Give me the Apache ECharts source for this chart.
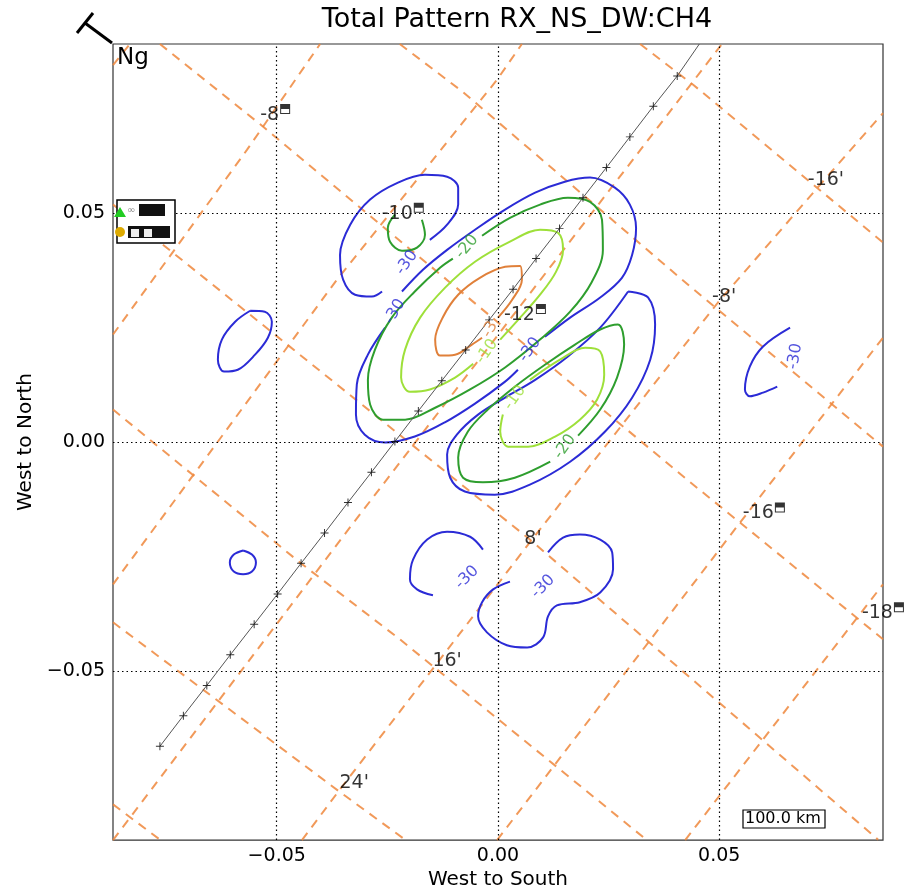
<!DOCTYPE html>
<html><head><meta charset="utf-8">
<script src="https://cdn.jsdelivr.net/npm/echarts@6/dist/echarts.min.js"></script>
<style>html,body{margin:0;padding:0;background:#fff}#c{width:922px;height:895px}</style>
</head><body><div id="c"></div>
<script>
// ---------- data ----------
const axisMin = -0.087, axisMax = 0.087;
const xTicks = [-0.05, 0, 0.05];
const yTicks = [-0.05, 0, 0.05];
const tickText = {'-0.05':'\u22120.05','0':'0.00','0.05':'0.05'};

// graticule (orange dashed) lines, data coords
const gratUa = [[-0.087,0.0824],[-0.0832,0.087]];
const gratUb = [[-0.087,0.0235],[-0.0567,0.0639],[-0.0402,0.087]];
const gratUc = [[-0.087,-0.0311],[-0.0364,0.0355],[-0.0002,0.0792],[0.0054,0.087]];
const gratUd = [[-0.087,-0.087],[-0.0335,-0.0187],[0.0506,0.087]];
const gratUe = [[-0.0443,-0.087],[-0.0357,-0.0759],[-0.0131,-0.0475],[0.0068,-0.0224],[0.0276,0.0032],[0.0497,0.0305],[0.0732,0.0567],[0.087,0.0719]];
const gratUf = [[-0.0002,-0.087],[0.0547,-0.0176],[0.087,0.0228]];
const gratUg = [[0.0423,-0.087],[0.087,-0.0311]];
const gratD3 = [[0.0321,0.087],[0.0441,0.0781],[0.087,0.0436]];
const gratD2 = [[-0.0222,0.087],[-0.0079,0.0765],[0.0434,0.0340],[0.087,-0.0010]];
const gratD1 = [[-0.0764,0.087],[-0.0538,0.0695],[-0.0002,0.0263],[0.0427,-0.0082],[0.0585,-0.0206],[0.087,-0.0431]];
const gratD0 = [[-0.087,0.0519],[0.0072,-0.0213],[0.0859,-0.0869]];
const gratDm1 = [[-0.087,0.0071],[-0.0448,-0.0263],[-0.0222,-0.0431],[0.0335,-0.0869]];
const gratDm2 = [[-0.087,-0.0394],[-0.0357,-0.0765],[-0.0210,-0.0869]];
const gratDm3 = [[-0.087,-0.0792],[-0.0764,-0.0869]];
const graticuleLines = [gratUa,gratUb,gratUc,gratUd,gratUe,gratUf,gratUg,gratD3,gratD2,gratD1,gratD0,gratDm1,gratDm2,gratDm3];
const graticuleLabels = [
  [0.0741,0.0573,"-16'"],[0.0511,0.0316,"-8'"],[0.0079,-0.0213,"8'"],[-0.0115,-0.0479,"16'"],[-0.0325,-0.0746,"24'"]
];

// ground track (black line with + marks)
const trackMarks = [[-0.0764,-0.0665],[-0.0711,-0.0598],[-0.0658,-0.0532],[-0.0605,-0.0465],[-0.0551,-0.0398],[-0.0498,-0.0332],[-0.0445,-0.0265],[-0.0392,-0.0199],[-0.0339,-0.0132],[-0.0286,-0.0066],[-0.0233,0.0001],[-0.0180,0.0068],[-0.0127,0.0134],[-0.0073,0.0201],[-0.0020,0.0267],[0.0034,0.0334],[0.0086,0.0401],[0.0139,0.0467],[0.0192,0.0534],[0.0245,0.0600],[0.0298,0.0667],[0.0351,0.0734],[0.0405,0.0800]];
const trackEnd = [0.0455,0.087];

// stations
const stations = [
  [-0.0481,0.0728,'-8'],[-0.0179,0.0512,'-10'],[0.0097,0.0291,'-12'],[0.0637,-0.0143,'-16'],[0.0906,-0.0361,'-18']
];

// contours (level -30 blue, -20 dark green, -10 light green, -3 orange)
const c30a = [[-0.0154,0.0442],[-0.0115,0.0475],[-0.0090,0.0519],[-0.0090,0.0556],[-0.0115,0.0580],[-0.0165,0.0584],[-0.0226,0.0567],[-0.0289,0.0530],[-0.0334,0.0475],[-0.0357,0.0409],[-0.0350,0.0355],[-0.0323,0.0322],[-0.0285,0.0318],[-0.0262,0.0329]];
const c30b1 = [[-0.0255,0.0250],[-0.0294,0.0191],[-0.0319,0.0126],[-0.0321,0.0060],[-0.0301,0.0016],[-0.0255,-0.0001],[-0.0188,0.0012],[-0.0120,0.0043],[-0.0052,0.0084],[0.0016,0.0132],[0.0045,0.0158]];
const c30b2 = [[0.0106,0.0230],[0.0163,0.0272],[0.0231,0.0316],[0.0280,0.0359],[0.0303,0.0409],[0.0312,0.0468],[0.0298,0.0519],[0.0264,0.0556],[0.0208,0.0578],[0.0151,0.0569],[0.0084,0.0545],[0.0016,0.0508],[-0.0052,0.0464],[-0.0115,0.0420],[-0.0169,0.0377],[-0.0217,0.0329]];
const c30c = [[0.0294,0.0329],[0.0339,0.0316],[0.0355,0.0257],[0.0344,0.0180],[0.0303,0.0097],[0.0242,0.0023],[0.0163,-0.0043],[0.0072,-0.0093],[-0.0007,-0.0115],[-0.0075,-0.0108],[-0.0108,-0.0078],[-0.0115,-0.0027],[-0.0093,0.0016],[-0.0045,0.0060],[0.0016,0.0097],[0.0084,0.0136],[0.0158,0.0187],[0.0231,0.0250],[0.0294,0.0329]];
const c30d = [[-0.0560,0.0287],[-0.0527,0.0285],[-0.0511,0.0263],[-0.0520,0.0228],[-0.0549,0.0191],[-0.0588,0.0158],[-0.0619,0.0154],[-0.0633,0.0180],[-0.0624,0.0224],[-0.0594,0.0263],[-0.0560,0.0287]];
const c30e = [[-0.0576,-0.0237],[-0.0556,-0.0246],[-0.0547,-0.0263],[-0.0556,-0.0283],[-0.0576,-0.0289],[-0.0597,-0.0283],[-0.0606,-0.0263],[-0.0597,-0.0246],[-0.0576,-0.0237]];
const c30f = [[0.0660,0.0250],[0.0599,0.0209],[0.0569,0.0165],[0.0558,0.0115],[0.0569,0.0100],[0.0599,0.0108],[0.0631,0.0121]];
const c30g = [[-0.0034,-0.0235],[-0.0063,-0.0207],[-0.0115,-0.0196],[-0.0160,-0.0213],[-0.0192,-0.0257],[-0.0199,-0.0300],[-0.0183,-0.0322],[-0.0147,-0.0335]];
const c30h = [[0.0027,-0.0305],[-0.0011,-0.0322],[-0.0036,-0.0350],[-0.0045,-0.0381],[-0.0025,-0.0416],[0.0020,-0.0444],[0.0066,-0.0449],[0.0102,-0.0427],[0.0113,-0.0381],[0.0133,-0.0357],[0.0185,-0.0350],[0.0231,-0.0329],[0.0260,-0.0278],[0.0258,-0.0241],[0.0231,-0.0213],[0.0185,-0.0202],[0.0147,-0.0209],[0.0113,-0.0241]];
const c20a = [[-0.0036,0.0451],[0.0027,0.0490],[0.0095,0.0519],[0.0158,0.0534],[0.0208,0.0525],[0.0235,0.0486],[0.0237,0.0420],[0.0212,0.0350],[0.0163,0.0285],[0.0095,0.0224],[0.0016,0.0163],[-0.0063,0.0115],[-0.0142,0.0075],[-0.0210,0.0049],[-0.0260,0.0049],[-0.0289,0.0082],[-0.0294,0.0136],[-0.0278,0.0202],[-0.0240,0.0272],[-0.0188,0.0329],[-0.0131,0.0381],[-0.0102,0.0401]];
const c20b = [[-0.0233,0.0497],[-0.0249,0.0468],[-0.0244,0.0438],[-0.0217,0.0418],[-0.0183,0.0425],[-0.0165,0.0453],[-0.0172,0.0486]];
const c20c = [[0.0181,0.0014],[0.0231,0.0071],[0.0269,0.0141],[0.0285,0.0213],[0.0271,0.0257],[0.0231,0.0246],[0.0174,0.0213],[0.0106,0.0169],[0.0038,0.0121],[-0.0023,0.0071],[-0.0068,0.0023],[-0.0090,-0.0034],[-0.0079,-0.0078],[-0.0034,-0.0088],[0.0038,-0.0078],[0.0118,-0.0043]];
const c10a = [[0.0005,0.0224],[0.0050,0.0272],[0.0095,0.0322],[0.0131,0.0372],[0.0147,0.0420],[0.0136,0.0457],[0.0095,0.0464],[0.0027,0.0438],[-0.0052,0.0394],[-0.0120,0.0337],[-0.0176,0.0272],[-0.0210,0.0202],[-0.0219,0.0141],[-0.0199,0.0110],[-0.0154,0.0115],[-0.0097,0.0141],[-0.0056,0.0171]];
const c10b = [[0.0072,0.0136],[0.0140,0.0180],[0.0197,0.0206],[0.0231,0.0198],[0.0240,0.0147],[0.0224,0.0093],[0.0185,0.0049],[0.0129,0.0012],[0.0068,-0.0010],[0.0023,-0.0010],[0.0005,0.0023],[0.0011,0.0060]];
const c3a = [[0,0.0272],[0.0032,0.0311],[0.0054,0.0355],[0.0050,0.0385],[0.0016,0.0383],[-0.0041,0.0359],[-0.0090,0.0322],[-0.0124,0.0274],[-0.0142,0.0224],[-0.0131,0.0189],[-0.0097,0.0191],[-0.0059,0.0213],[-0.0036,0.0228]];

const contours30 = [c30a,c30b1,c30b2,c30c,c30d,c30e,c30f,c30g,c30h];
const contours20 = [c20a,c20b,c20c];
const contours10 = [c10a,c10b];
const contours3 = [c3a];

// contour labels: x, y, text, level
const contourLabels = [
  [-0.0206,0.0392,'-30',30],[-0.0233,0.0285,'-30',30],[-0.0070,0.0427,'-20',20],[-0.0018,0.0246,'-3',3],
  [-0.0025,0.0198,'-10',10],[0.0072,0.0202,'-30',30],[0.0038,0.0097,'-10',10],[0.0151,-0.0010,'-20',20],
  [0.0671,0.0187,'-30',30],[-0.0070,-0.0296,'-30',30],[0.0102,-0.0316,'-30',30]
];

// ---------- styles ----------
const FONT = 'DejaVu Sans';
const levelColor = {30:'#2b2bd6', 20:'#2e9e2e', 10:'#9ee03a', 3:'#e0803a'};
const labelRotate = [55,60,50,60,55,55,55,55,80,45,45];

const series = [];
series.push({type:'line', data:[], silent:true, markLine:{silent:true, symbol:'none', label:{show:false},
  lineStyle:{color:'#000', type:[1.5,3], width:1.2},
  data: xTicks.map(v=>({xAxis:v})).concat(yTicks.map(v=>({yAxis:v})))}});
graticuleLines.forEach(l=>series.push({type:'line', data:l, showSymbol:false, silent:true, clip:true, z:2,
  lineStyle:{color:'rgba(238,135,60,0.85)', width:2, type:[9,7]}}));
function addContours(list, lvl){
  list.forEach(l=>series.push({type:'line', data:l, showSymbol:false, smooth:0.35, silent:true, clip:true, z:4,
    lineStyle:{color:levelColor[lvl], width:2}}));
}
addContours(contours30,30); addContours(contours20,20); addContours(contours10,10); addContours(contours3,3);
series.push({type:'line', data:trackMarks.concat([trackEnd]), showSymbol:false, silent:true, z:5,
  lineStyle:{color:'#555', width:1}});
series.push({type:'scatter', data:trackMarks, symbol:'path://M-1,-0.12H1V0.12H-1ZM-0.12,-1H0.12V1H-0.12Z', symbolSize:8, z:6,
  itemStyle:{color:'#000'}, silent:true});
series.push({type:'scatter', data:contourLabels.map((c,i)=>({value:[c[0],c[1]], label:{rotate:labelRotate[i], color:levelColor[c[3]]}})),
  symbolSize:0, z:7, silent:true,
  label:{show:true, position:'inside', formatter:p=>contourLabels[p.dataIndex][2], fontSize:16, fontFamily:FONT}});
series.push({type:'scatter', data:graticuleLabels.map(g=>[g[0],g[1]]), symbolSize:0, z:7, silent:true,
  label:{show:true, position:'inside', formatter:p=>graticuleLabels[p.dataIndex][2], fontSize:19, fontFamily:FONT, color:'#000'}});
series.push({type:'scatter', data:stations.map(s=>[s[0],s[1]]), clip:false, z:8, silent:true,
  symbol:'path://M0,0H10V10H0ZM1,5V9H9V5Z', symbolSize:10, itemStyle:{color:'#000'},
  label:{show:true, position:'left', distance:1, offset:[0,6], formatter:p=>stations[p.dataIndex][2], fontSize:19, fontFamily:FONT, color:'#000'}});

const chart = echarts.init(document.getElementById('c'), null, {renderer:'canvas'});
chart.setOption({
  backgroundColor:'#fff',
  animation:false,
  grid:{left:113, right:39, top:44, bottom:54, show:true, borderColor:'#333', borderWidth:1.2, backgroundColor:'transparent'},
  xAxis:{type:'value', min:axisMin, max:axisMax, name:'West to South', nameLocation:'middle', nameGap:24,
    nameTextStyle:{fontSize:20, fontFamily:FONT, color:'#000'},
    axisLine:{show:false}, axisTick:{show:false}, splitLine:{show:false},
    axisLabel:{customValues:xTicks, formatter:v=>tickText[String(Math.round(v*100)/100)], fontSize:19, fontFamily:FONT, color:'#000', margin:6}},
  yAxis:{type:'value', min:axisMin, max:axisMax, name:'West to North', nameLocation:'middle', nameGap:74,
    nameTextStyle:{fontSize:20, fontFamily:FONT, color:'#000'},
    axisLine:{show:false}, axisTick:{show:false}, splitLine:{show:false},
    axisLabel:{customValues:yTicks, formatter:v=>tickText[String(Math.round(v*100)/100)], fontSize:19, fontFamily:FONT, color:'#000', margin:8}},
  graphic:[
    {type:'text', x:517, y:6, style:{text:'Total Pattern RX_NS_DW:CH4', font:'27px "DejaVu Sans"', fill:'#000', align:'center', textAlign:'center'}, z:10},
    {type:'text', left:117, top:47, style:{text:'Ng', font:'23px "DejaVu Sans"', fill:'#000'}, z:10},
    {type:'polyline', shape:{points:[[85,23],[112,43]]}, style:{stroke:'#000', lineWidth:3}, z:10},
    {type:'polyline', shape:{points:[[77,33],[93,13]]}, style:{stroke:'#000', lineWidth:3}, z:10},
    {type:'rect', shape:{x:117, y:200, width:58, height:43}, style:{fill:'#fff', stroke:'#000', lineWidth:1.5}, z:10},
    {type:'polygon', shape:{points:[[114,217],[120,207],[126,217]]}, style:{fill:'#22cc22'}, z:11},
    {type:'rect', shape:{x:139, y:204, width:26, height:12}, style:{fill:'#111'}, z:11},
    {type:'text', left:127, top:205, style:{text:'\u221e', font:'10px "DejaVu Sans"', fill:'#888'}, z:11},
    {type:'circle', shape:{cx:120, cy:232, r:5}, style:{fill:'#ddaa00'}, z:11},
    {type:'rect', shape:{x:128, y:226, width:42, height:12}, style:{fill:'#111'}, z:11},
    {type:'rect', shape:{x:131, y:229, width:8, height:8}, style:{fill:'#eee'}, z:12},
    {type:'rect', shape:{x:144, y:229, width:8, height:8}, style:{fill:'#eee'}, z:12},
    {type:'rect', shape:{x:743, y:810, width:82, height:18}, style:{fill:'#fff', stroke:'#000', lineWidth:1.2}, z:10},
    {type:'text', left:745, top:811, style:{text:'100.0 km', font:'16px "DejaVu Sans"', fill:'#000'}, z:11}
  ],
  series:series
});
</script></body></html>
